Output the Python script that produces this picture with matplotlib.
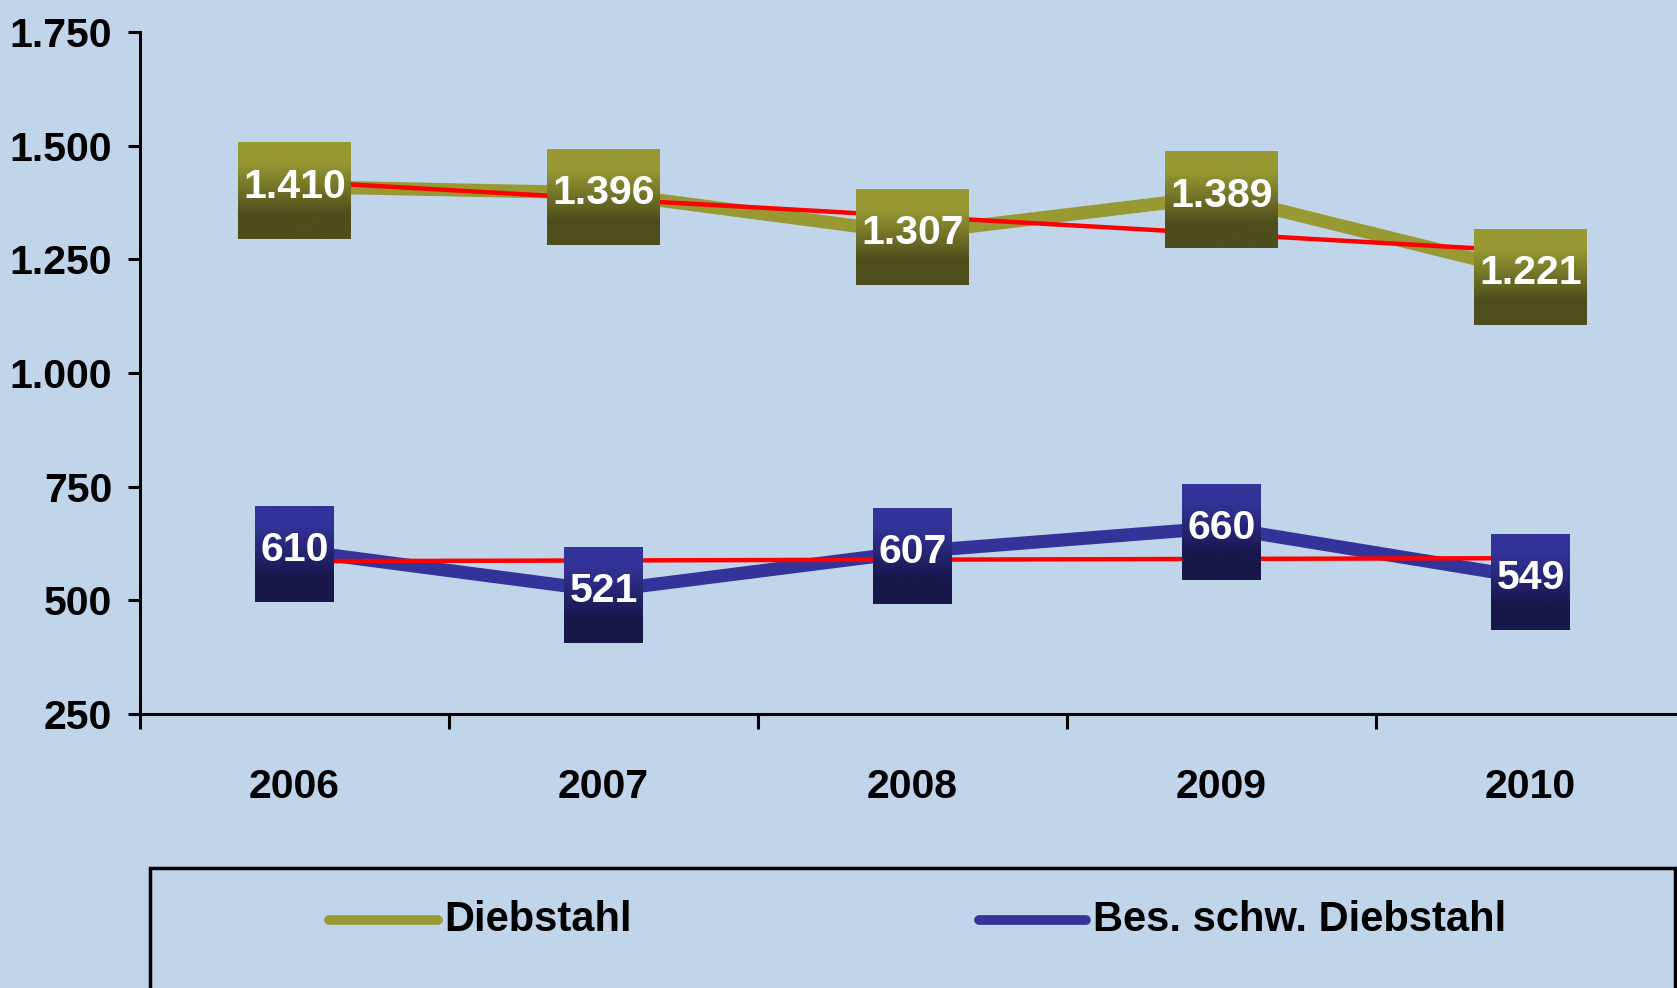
import numpy as np
import matplotlib
matplotlib.use("Agg")
import matplotlib.pyplot as plt
from matplotlib.patches import Rectangle
from matplotlib.lines import Line2D

# data
years = ["2006", "2007", "2008", "2009", "2010"]
diebstahl = [1410, 1396, 1307, 1389, 1221]
bes_schw = [610, 521, 607, 660, 549]
y_ticks = [250, 500, 750, 1000, 1250, 1500, 1750]

plt.rcParams['font.family'] = ['Liberation Sans', 'DejaVu Sans']
plt.rcParams['font.weight'] = 'bold'

bg = '#c0d5ea'
olive = '#999933'
blue = '#333399'
fs = 29.5


def de_num(v):
    # German thousands separator
    return f"{v:,}".replace(',', '.')


fig = plt.figure(figsize=(16.77, 9.88), dpi=100, facecolor=bg)
ax = fig.add_axes([140 / 1677, 1 - 714 / 988, 1 - 140 / 1677, (714 - 32) / 988])
ax.set_facecolor(bg)

x = np.arange(len(years))
ax.plot(x, diebstahl, color=olive, lw=9.5, zorder=2, solid_capstyle='butt')
ax.plot(x, bes_schw, color=blue, lw=9.5, zorder=2, solid_capstyle='butt')

# linear trend lines
for vals in (diebstahl, bes_schw):
    k, d = np.polyfit(x, vals, 1)
    ax.plot(x, k * x + d, color='red', lw=3.2, zorder=3)

xmax = -0.5 + (1677 - 140) / 309
ax.set_xlim(-0.5, xmax)
ax.set_ylim(250, 1750)

ax.set_yticks(y_ticks)
ax.set_yticklabels([de_num(v) for v in y_ticks])
ax.tick_params(axis='y', direction='out', length=9, width=2.2, pad=11, labelsize=fs)

ax.set_xticks(np.arange(-0.5, xmax, 1.0))
ax.set_xticklabels([])
ax.tick_params(axis='x', which='major', direction='out', length=11, width=2.2)
ax.set_xticks(x, minor=True)
ax.set_xticklabels(years, minor=True)
ax.tick_params(axis='x', which='minor', length=0, pad=39, labelsize=fs)

for s in ['top', 'right']:
    ax.spines[s].set_visible(False)
for s in ['left', 'bottom']:
    ax.spines[s].set_linewidth(2.2)

# value labels
labels = []
for vals in (diebstahl, bes_schw):
    for xi, v in zip(x, vals):
        t = ax.text(xi, v, de_num(v), color='white', fontsize=fs, fontweight='bold',
                    ha='center', va='center', zorder=6)
        labels.append((t, xi, v))

fig.canvas.draw()
renderer = fig.canvas.get_renderer()
inv = ax.transData.inverted()


def gradient(top, bottom):
    top = np.array(matplotlib.colors.to_rgb(top))
    bottom = np.array(matplotlib.colors.to_rgb(bottom))
    pos = np.linspace(0, 1, 100)
    w = np.interp(pos, [0, 0.2, 0.75, 1], [0, 0, 1, 1])
    return (top[None, :] * (1 - w[:, None]) + bottom[None, :] * w[:, None])[:, None, :]


grad_olive = gradient('#989933', '#4e4e1c')
grad_blue = gradient('#333399', '#17174a')

for i, (t, xi, v) in enumerate(labels):
    bb = t.get_window_extent(renderer)
    cx, cy = ax.transData.transform((xi, v))
    w = bb.width + 10
    h = 96
    cy -= 4
    (x0, y0) = inv.transform((cx - w / 2, cy - h / 2))
    (x1, y1) = inv.transform((cx + w / 2, cy + h / 2))
    g = grad_olive if i < len(years) else grad_blue
    ax.imshow(g, extent=(x0, x1, y0, y1), aspect='auto', zorder=5, interpolation='bilinear')

ax.set_xlim(-0.5, xmax)
ax.set_ylim(250, 1750)

# legend box
fig.patches.append(Rectangle((150 / 1677, -0.05), (1675 - 150) / 1677, 0.05 + 1 - 868 / 988,
                             transform=fig.transFigure, facecolor='none', edgecolor='black',
                             lw=2.5, clip_on=False))
ly = 1 - 920 / 988
fig.lines.append(Line2D([329 / 1677, 438 / 1677], [ly, ly], transform=fig.transFigure,
                        color=olive, lw=7, solid_capstyle='round'))
fig.text(444 / 1677, ly, "Diebstahl", fontsize=30, fontweight='bold', va='center', ha='left')
fig.lines.append(Line2D([979 / 1677, 1086 / 1677], [ly, ly], transform=fig.transFigure,
                        color=blue, lw=7, solid_capstyle='round'))
fig.text(1093 / 1677, ly, "Bes. schw. Diebstahl", fontsize=30, fontweight='bold', va='center', ha='left')

fig.savefig("out.png", dpi=100, facecolor=bg)
